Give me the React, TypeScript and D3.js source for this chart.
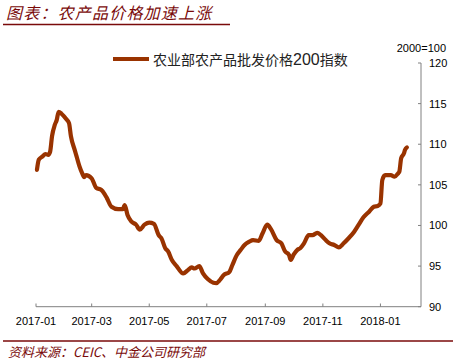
import React from "react";
import * as d3 from "d3";

const dates: string[] = [
  "2017-01-02","2017-01-04","2017-01-08","2017-01-11","2017-01-14","2017-01-16","2017-01-18","2017-01-21","2017-01-23","2017-01-25",
  "2017-01-28","2017-02-02","2017-02-05","2017-02-07","2017-02-11","2017-02-13","2017-02-16","2017-02-19","2017-02-21","2017-02-23",
  "2017-03-01","2017-03-06","2017-03-11","2017-03-15","2017-03-17","2017-03-22","2017-03-29","2017-04-03","2017-04-05","2017-04-08",
  "2017-04-12","2017-04-17","2017-04-21","2017-04-26","2017-05-01","2017-05-06","2017-05-11","2017-05-14","2017-05-18","2017-05-21",
  "2017-05-25","2017-05-30","2017-06-06","2017-06-11","2017-06-15","2017-06-18","2017-06-23","2017-06-27","2017-07-02","2017-07-08",
  "2017-07-11","2017-07-15","2017-07-19","2017-07-25","2017-07-28","2017-08-02","2017-08-06","2017-08-10","2017-08-15","2017-08-19",
  "2017-08-25","2017-08-29","2017-09-03","2017-09-07","2017-09-13","2017-09-18","2017-09-22","2017-09-26","2017-09-28","2017-10-01",
  "2017-10-05","2017-10-08","2017-10-12","2017-10-17","2017-10-21","2017-10-26","2017-10-30","2017-11-04","2017-11-08","2017-11-13",
  "2017-11-18","2017-11-23","2017-11-28","2017-12-04","2017-12-09","2017-12-14","2017-12-20","2017-12-25","2017-12-29","2018-01-01",
  "2018-01-03","2018-01-06","2018-01-12","2018-01-16","2018-01-20","2018-01-21","2018-01-23","2018-01-26","2018-01-27","2018-01-29",
];
const values: number[] = [
  106.85,108.1,108.5,108.8,108.7,109.1,111.0,112.4,113.0,114.0,
  113.75,113.1,112.6,111.0,109.3,108.5,107.3,106.4,105.95,106.2,
  105.8,104.6,104.4,103.8,103.4,102.3,102.0,102.0,102.5,101.3,
  100.5,100.1,99.5,100.1,100.35,100.2,98.8,98.4,97.2,96.8,
  95.75,95.0,94.1,94.5,94.85,94.7,95.0,94.1,93.4,92.95,
  92.9,93.3,93.9,94.3,95.1,96.4,97.0,97.6,98.0,98.2,
  98.1,99.0,100.1,99.55,98.2,97.8,96.8,96.4,95.75,96.4,
  97.0,97.2,97.8,98.8,98.8,99.1,98.8,98.2,97.8,97.6,
  97.3,97.8,98.4,99.2,100.1,101.0,101.7,102.3,102.4,102.7,
  105.6,106.2,106.2,106.0,106.45,106.6,108.3,108.9,109.3,109.6,
];
const xTicks: string[] = ["2017-01","2017-03","2017-05","2017-07","2017-09","2017-11","2018-01"];
const yTicks: number[] = [90, 95, 100, 105, 110, 115, 120];
const seriesNameParts: string[] = ["农业部农产品批发价格", "200", "指数"];
const title = "图表：农产品价格加速上涨";
const source = "资料来源：CEIC、中金公司研究部";
const unit = "2000=100";

export default function App() {
  const W = 457, H = 361;
  const parse = d3.timeParse("%Y-%m-%d");
  const parseM = d3.timeParse("%Y-%m");
  const data = dates.map((d, i) => ({ date: parse(d) as Date, v: values[i] }));
  const x = d3.scaleTime()
    .domain([parse("2017-01-01") as Date, parse("2018-02-13") as Date])
    .range([36, 421]);
  const y = d3.scaleLinear().domain([90, 120]).range([306.7, 63]);
  const line = d3.line<{ date: Date; v: number }>()
    .x(d => x(d.date))
    .y(d => y(d.v))
    .curve(d3.curveMonotoneX);
  const axisColor = "#808080";
  const dark = "#7a0a0a";
  const font = "'Liberation Sans', Arial, sans-serif";
  const cjk = "'Noto Sans CJK SC', sans-serif";
  return (
    <svg width={W} height={H} style={{ position: "absolute", left: 0, top: 0, background: "#fff" }}>
      <text x={6} y={19} fontFamily={cjk} fontStyle="italic" fontSize={16} letterSpacing={1.2} fill={dark}>{title}</text>
      <line x1={3} x2={230} y1={24.5} y2={24.5} stroke={dark} strokeWidth={1.5} />

      {/* legend */}
      <line x1={113} x2={149} y1={59} y2={59} stroke="#993300" strokeWidth={4} />
      <text x={153} y={59} dominantBaseline="central" fill="#222">
        <tspan fontFamily={cjk} fontSize={14}>{seriesNameParts[0]}</tspan>
        <tspan fontFamily={font} fontSize={16}>{seriesNameParts[1]}</tspan>
        <tspan fontFamily={cjk} fontSize={14}>{seriesNameParts[2]}</tspan>
      </text>

      {/* y axis */}
      <text x={446} y={48} textAnchor="end" dominantBaseline="central" fontFamily={font} fontSize={11} fill="#000">{unit}</text>
      <line x1={421} x2={421} y1={y(120)} y2={y(90)} stroke={axisColor} strokeWidth={1} />
      {yTicks.map(t => (
        <g key={t}>
          <line x1={418} x2={421} y1={y(t)} y2={y(t)} stroke={axisColor} />
          <text x={429} y={y(t)} dominantBaseline="central" fontFamily={font} fontSize={11} fill="#000">{t}</text>
        </g>
      ))}

      {/* x axis */}
      <line x1={36} x2={421} y1={306.7} y2={306.7} stroke={axisColor} strokeWidth={1} />
      {xTicks.map(t => {
        const xx = x(parseM(t) as Date);
        return (
          <g key={t}>
            <line x1={xx} x2={xx} y1={303.5} y2={306.7} stroke={axisColor} />
            <text x={xx} y={321} textAnchor="middle" dominantBaseline="central" fontFamily={font} fontSize={11} fill="#000">{t}</text>
          </g>
        );
      })}

      <path d={line(data) || ""} fill="none" stroke="#993300" strokeWidth={4.2} strokeLinejoin="round" strokeLinecap="round" />

      <line x1={3} x2={453} y1={341} y2={341} stroke={dark} strokeWidth={1.5} />
      <text x={8} y={357} fontFamily={cjk} fontStyle="italic" fontSize={13} fill={dark}>{source}</text>
    </svg>
  );
}
